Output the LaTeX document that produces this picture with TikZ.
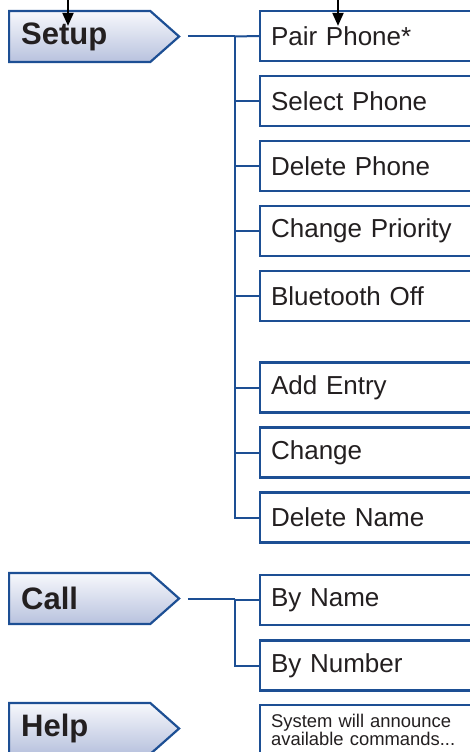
\documentclass[tikz,border=0pt]{standalone}
\usepackage{fontspec}
\setmainfont{Liberation Sans}
\usetikzlibrary{positioning,shapes.symbols,arrows.meta}
\definecolor{menublue}{HTML}{1D4F94}
\definecolor{shadetop}{HTML}{F7F8FC}
\definecolor{shadebot}{HTML}{B8C2DE}
\definecolor{inktext}{HTML}{231F20}
\tikzset{
  menu/.style={signal, signal to=east, signal pointer angle=83, draw=menublue,
    line width=2.2pt, top color=shadetop, bottom color=shadebot,
    minimum width=170pt, minimum height=51pt, inner xsep=12pt, inner ysep=0pt,
    anchor=west, font=\fontsize{31}{37}\selectfont\bfseries, text=inktext},
  item/.style={rectangle, draw=menublue, line width=2.2pt, fill=white,
    minimum width=240pt, minimum height=50pt, text width=218pt, inner sep=0pt,
    align=left, anchor=west, font=\fontsize{26}{31}\selectfont, text=inktext},
  link/.style={draw=menublue, line width=2pt},
  feed/.style={-{Triangle[length=13pt,width=11pt]}, line width=2pt, black},
}
\begin{document}
\begin{tikzpicture}[x=1pt, y=-1pt]
  \useasboundingbox (0,0) rectangle (470,752);
  \clip (0,0) rectangle (470,752);

  % Main menu
  \node[menu] (setup) at (8,36.5) {\makebox[117pt][l]{Setup}};
  \node[menu] (call) at (8,598.5) {\makebox[117pt][l]{Call}};
  \node[menu] (help) at (8,728.5) {\makebox[117pt][l]{Help}};

  % Setup submenu
  \node[item] (pair) at (259,36) {Pair Phone*};
  \node[item] (select) at (259,101) {Select Phone};
  \node[item] (delete) at (259,166) {Delete Phone};
  \node[item] (priority) at (259,231) {Change Priority};
  \node[item] (btoff) at (259,296) {Bluetooth Off};
  \node[item] (addentry) at (259,387.5) {Add Entry};
  \node[item] (change) at (259,452.5) {Change};
  \node[item] (delname) at (259,517.5) {Delete Name};

  % Call submenu
  \node[item] (byname) at (259,600) {By Name};
  \node[item] (bynumber) at (259,665.5) {By Number};

  % Help text
  \node[item, font=\fontsize{18.4}{17.7}\selectfont] (announce) at (259,730)
    {System will announce\\available commands...};

  % Branches
  \draw[link] ([xshift=7pt]setup.east) -- ++(47,0) coordinate (jsetup);
  \draw[link] (jsetup) |- (delname.west);
  \foreach \n in {select,delete,priority,btoff,addentry,change}
    \draw[link] (jsetup |- \n.west) -- (\n.west);
  \draw[link] (jsetup) -- (pair.west);

  \draw[link] ([xshift=7pt]call.east) -- ++(47,0) coordinate (jcall);
  \draw[link] (jcall) |- (bynumber.west);
  \draw[link] (jcall |- byname.west) -- (byname.west);

  % Incoming arrows
  \coordinate (insetup) at (68,0);
  \coordinate (inpair) at (338,0);
  \draw[feed] (insetup) -- ([yshift=-16pt]insetup |- setup.north);
  \draw[feed] (inpair) -- ([yshift=-16pt]inpair |- pair.north);
\end{tikzpicture}
\end{document}
